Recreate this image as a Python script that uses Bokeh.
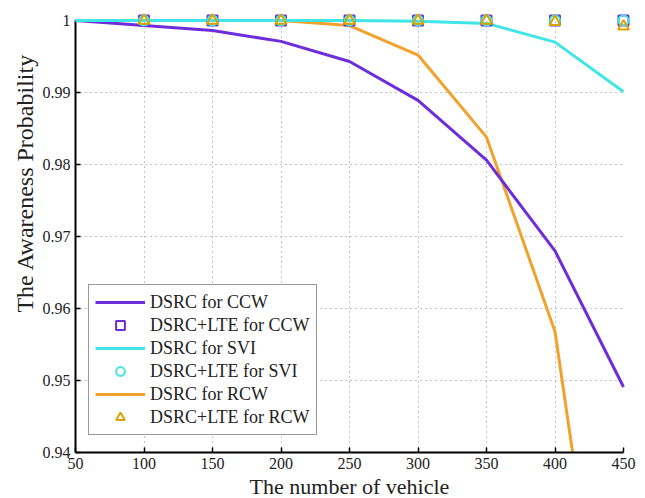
from bokeh.plotting import figure
from bokeh.models import Range1d, FixedTicker, CustomJSTickFormatter, Legend, LegendItem, Title
from bokeh.embed import file_html
from bokeh.resources import INLINE

# ---- data ----
vehicles = [50, 100, 150, 200, 250, 300, 350, 400, 450]
dsrc_ccw = [1.0, 0.9993, 0.9986, 0.9971, 0.9943, 0.9889, 0.9806, 0.9680, 0.9491]
dsrc_svi = [1.0, 1.0, 1.0, 1.0, 1.0, 0.9999, 0.9996, 0.9970, 0.9901]
dsrc_rcw = [1.0, 1.0, 1.0, 1.0, 0.9993, 0.9952, 0.9838, 0.9568, 0.8915]

lte_x = [100, 150, 200, 250, 300, 350, 400, 450]
lte_ccw = [1.0, 1.0, 1.0, 1.0, 1.0, 1.0, 1.0, 1.0]
lte_svi = [1.0, 1.0, 1.0, 1.0, 1.0, 1.0, 1.0, 1.0]
lte_rcw = [1.0, 1.0, 1.0, 1.0, 1.0, 1.0, 0.9998, 0.9992]

x_ticks = [50, 100, 150, 200, 250, 300, 350, 400, 450]
y_ticks = [0.94, 0.95, 0.96, 0.97, 0.98, 0.99, 1.0]

x_title = "The number of vehicle"
y_title = "The Awareness Probability"

PURPLE = "#6e2ddb"
CYAN = "#40e6e6"
ORANGE = "#f2a12c"
TRI = "#dca400"
FONT = "Liberation Serif"

p = figure(width=645, height=498, output_backend="svg", toolbar_location=None,
           x_range=Range1d(50, 450), y_range=Range1d(0.94, 1.0),
           min_border_left=75, min_border_right=22, min_border_top=20, min_border_bottom=46)
p.outline_line_color = None
p.background_fill_color = "white"

for ax in (p.xaxis[0], p.yaxis[0]):
    ax.major_tick_in = 5
    ax.major_tick_out = 0
    ax.minor_tick_line_color = None
    ax.axis_line_color = "black"
    ax.axis_line_width = 2
    ax.major_tick_line_color = "black"
    ax.major_tick_line_width = 1.5
    ax.major_label_text_font = FONT
    ax.major_label_text_font_size = "16px"
    ax.major_label_text_color = "#222"

p.xaxis.ticker = FixedTicker(ticks=x_ticks)
p.yaxis.ticker = FixedTicker(ticks=y_ticks)
p.yaxis.formatter = CustomJSTickFormatter(code="return (Math.round(tick*100)/100).toString();")
p.xaxis.major_label_standoff = 5
p.yaxis.major_label_standoff = 5

for g in (p.xgrid[0], p.ygrid[0]):
    g.grid_line_color = "#888888"
    g.grid_line_dash = "1 4"
    g.grid_line_width = 1

r1 = p.line(vehicles, dsrc_ccw, line_color=PURPLE, line_width=3)
r2 = p.line(vehicles, dsrc_svi, line_color=CYAN, line_width=3)
r3 = p.line(vehicles, dsrc_rcw, line_color=ORANGE, line_width=3)
m1 = p.scatter(lte_x, lte_ccw, marker="square", size=10, fill_color=None, line_color=PURPLE, line_width=2, level="overlay")
m2 = p.scatter(lte_x, lte_svi, marker="circle", size=10, fill_color=None, line_color=CYAN, line_width=2, level="overlay")
m3 = p.scatter(lte_x, lte_rcw, marker="triangle", size=11, fill_color=None, line_color=TRI, line_width=2, level="overlay")
r1.level = "overlay"
r2.level = "overlay"

# axis titles
xt = Title(text=x_title, align="center", text_font=FONT, text_font_size="22px",
           text_font_style="normal", text_color="#222", standoff=0)
p.add_layout(xt, "below")
yt = Title(text=y_title, align="right", text_font=FONT, text_font_size="24px",
           text_font_style="normal", text_color="#222", standoff=3, offset=33)
p.add_layout(yt, "left")

legend = Legend(items=[
    LegendItem(label="DSRC for CCW", renderers=[r1]),
    LegendItem(label="DSRC+LTE for CCW", renderers=[m1]),
    LegendItem(label="DSRC for SVI", renderers=[r2]),
    LegendItem(label="DSRC+LTE for SVI", renderers=[m2]),
    LegendItem(label="DSRC for RCW", renderers=[r3]),
    LegendItem(label="DSRC+LTE for RCW", renderers=[m3]),
], location=(13, 17))
legend.label_text_font = FONT
legend.label_text_font_size = "18px"
legend.label_text_color = "#222"
legend.glyph_width = 50
legend.glyph_height = 22
legend.label_height = 22
legend.label_standoff = 5
legend.spacing = 1
legend.padding = 6
legend.margin = 0
legend.border_line_color = "#333333"
legend.border_line_width = 1.5
legend.background_fill_color = "white"
legend.background_fill_alpha = 1.0
p.add_layout(legend, "center")

open("out.html", "w").write(file_html(p, INLINE))
